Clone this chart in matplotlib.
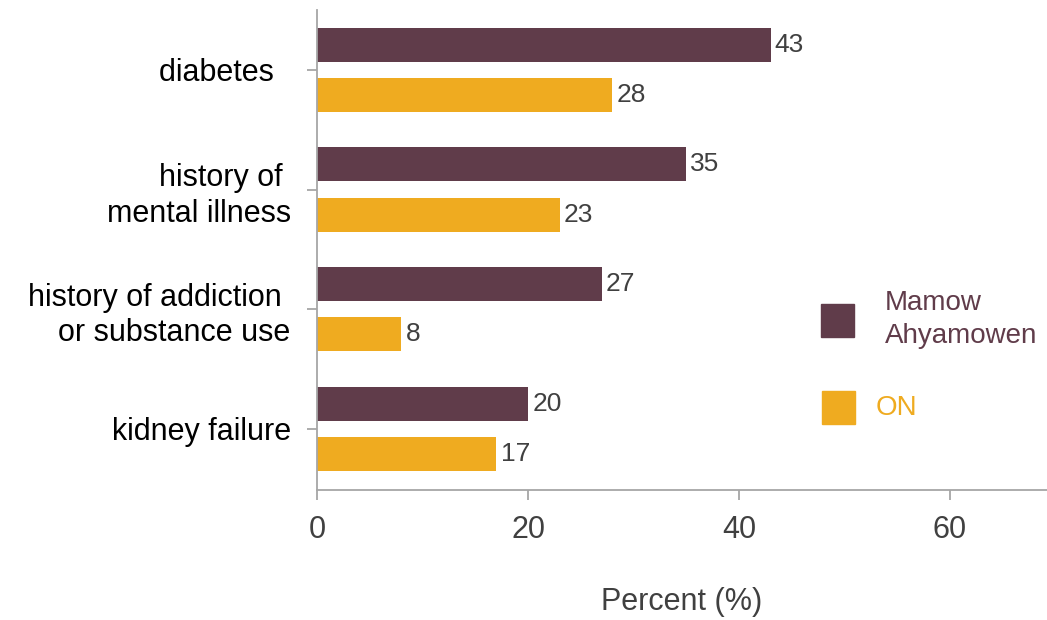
import numpy as np
import matplotlib
matplotlib.use("Agg")
from matplotlib import pyplot as plt
from matplotlib.patches import Rectangle

plt.rcParams["font.family"] = ["Liberation Sans", "DejaVu Sans"]

categories = ["diabetes  ", "history of \nmental illness", "history of addiction \nor substance use", "kidney failure"]
mamow = [43, 35, 27, 20]
ontario = [28, 23, 8, 17]
series_names = ["Mamow\nAhyamowen", "ON"]

purple = "#603c4a"
orange = "#efab20"
grey = "#a6a6a6"
textgrey = "#404040"

fig = plt.figure(figsize=(10.47, 6.2), dpi=100)
ax = fig.add_axes([0.3028, 0.2097, 0.6972, 0.7742])

y = np.arange(len(categories))[::-1]
h = 0.285
off = 0.21
ax.barh(y + off, mamow, height=h, color=purple)
ax.barh(y - off, ontario, height=h, color=orange)

for yi, v in zip(y, mamow):
    ax.text(v + 0.4, yi + off, str(v), va="center", ha="left", fontsize=19, color=textgrey)
for yi, v in zip(y, ontario):
    ax.text(v + 0.4, yi - off, str(v), va="center", ha="left", fontsize=19, color=textgrey)

ax.set_xlim(0, 69.2)
ax.set_ylim(-0.51, 3.5)
ax.set_xticks([0, 20, 40, 60])
ax.set_yticks(y)
ax.set_yticklabels(categories, fontsize=22, color="black", linespacing=1.25, ha="right")

for s in ["top", "right"]:
    ax.spines[s].set_visible(False)
for s in ["left", "bottom"]:
    ax.spines[s].set_color(grey)
    ax.spines[s].set_linewidth(1.3)

ax.tick_params(axis="x", colors=grey, length=7, width=1.3, pad=11, labelsize=22, labelcolor=textgrey)
ax.tick_params(axis="y", colors=grey, length=7, width=1.3, pad=12, labelsize=22, labelcolor="black")
ax.set_xlabel("Percent (%)", fontsize=22, color=textgrey, labelpad=30)

# legend
sq_w = 33 / 730
sq_h = 33 / 480
ax.add_patch(Rectangle(((821 - 317) / 730, (490 - 337) / 480), sq_w, sq_h,
                       transform=ax.transAxes, color=purple, clip_on=False))
ax.text((885 - 317) / 730, (490 - 320) / 480, series_names[0], transform=ax.transAxes,
        fontsize=20, color=purple, va="center", ha="left", linespacing=1.35)
ax.add_patch(Rectangle(((822 - 317) / 730, (490 - 424) / 480), sq_w, sq_h,
                       transform=ax.transAxes, color=orange, clip_on=False))
ax.text((876 - 317) / 730, (490 - 408) / 480, series_names[1], transform=ax.transAxes,
        fontsize=20, color=orange, va="center", ha="left")

fig.savefig("out.png", dpi=100)
